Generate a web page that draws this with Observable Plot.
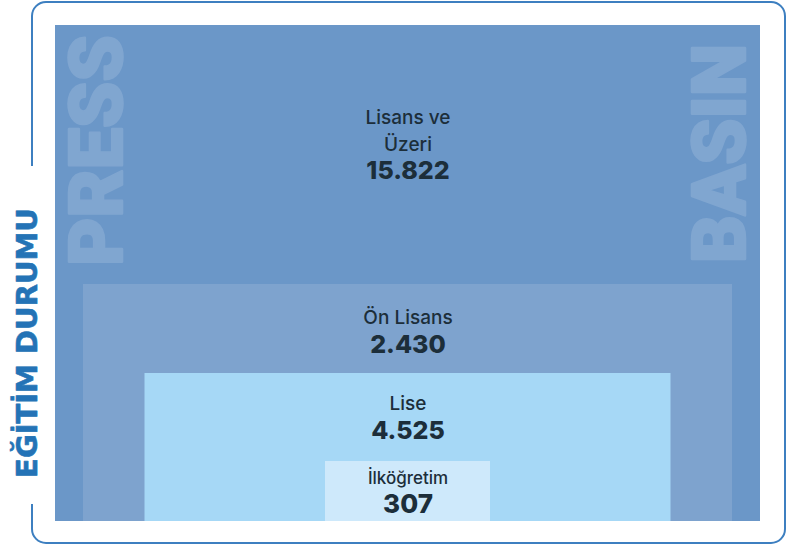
<!DOCTYPE html>
<html>
<head>
<meta charset="utf-8">
<script src="https://cdn.jsdelivr.net/npm/d3@7"></script>
<script src="https://cdn.jsdelivr.net/npm/@observablehq/plot@0.6"></script>
<style>
  html, body { margin: 0; padding: 0; background: #ffffff; }
  #chart svg { display: block; }
</style>
</head>
<body>
<div id="chart"></div>
<script>
// ---- data ----
const categories = ["Lisans ve\nÜzeri", "Ön Lisans", "Lise", "İlköğretim"];
const values = [15822, 2430, 4525, 307];
const title = "EĞİTİM DURUMU";
const watermarks = ["PRESS", "BASIN"];

// ---- layout (nested boxes, bottom-aligned, centred) ----
const boxWidth = [705, 649, 526, 165];
const boxHeight = [496, 237, 148, 60];
const labelDrop = [125, 39, 36, 22];
const valueDrop = [153, 68, 65, 51];
const boxFill = ["#6b97c8", "#7ea3ce", "#a6d8f6", "#cee9fb"];

const trFormat = d3.formatLocale({decimal: ",", thousands: ".", grouping: [3], currency: ["", "₺"]}).format(",d");

const rows = categories.map((c, i) => ({
  category: c,
  value: values[i],
  level: i,
  w: boxWidth[i],
  h: boxHeight[i],
  labelY: boxHeight[i] - labelDrop[i],
  valueY: boxHeight[i] - valueDrop[i],
  fill: boxFill[i]
}));

const marks = [
  // outer rounded frame
  Plot.rect([{}], {x1: -375.5, x2: 377.5, y1: -22, y2: 519, rx: 14, fill: "none", stroke: "#3d7fc0", strokeWidth: 2}),
  // gap in the frame for the title
  Plot.rect([{}], {x1: -384, x2: -367, y1: 17, y2: 355, fill: "white"}),
  Plot.text([title], {x: -380.5, y: 178.5, text: d => d, rotate: -90, fill: "#2473b6",
    fontSize: 29, fontWeight: "bold", fontFamily: "DejaVu Sans", lineAnchor: "middle", textAnchor: "middle",
    stroke: "#2473b6", strokeWidth: 0.6}),
  // boxes
  Plot.rect(rows, {x1: d => -d.w / 2, x2: d => d.w / 2, y1: 0, y2: d => d.h, fill: d => d.fill}),
  // watermarks
  Plot.text(watermarks, {x: (d, i) => i === 0 ? -310 : 313, y: (d, i) => i === 0 ? 371 : 368, text: d => d,
    rotate: -90, fill: "#80a6d0", stroke: "#80a6d0", strokeWidth: 2.5, fontSize: 74, fontWeight: 900, fontFamily: "Roboto",
    lineAnchor: "middle", textAnchor: "middle", ariaLabel: "watermark"}),
  // labels
  Plot.text(rows, {x: 0, y: "labelY", text: "category", lineAnchor: "bottom", lineHeight: 1.42,
    fontSize: d => d.level === 3 ? 17 : 19, fontWeight: 500, fontFamily: "Inter", fill: "#1c2e3a", ariaLabel: "labels"}),
  Plot.text(rows, {x: 0, y: "valueY", text: d => trFormat(d.value), lineAnchor: "bottom",
    fontSize: d => d.level === 3 ? 26 : 25, fontWeight: 800, fontFamily: "Inter", fill: "#1c2e3a", ariaLabel: "values"})
];

const chart = Plot.plot({
  width: 795,
  height: 545,
  marginLeft: 55,
  marginRight: 35,
  marginTop: 25,
  marginBottom: 24,
  x: {domain: [-352.5, 352.5], axis: null},
  y: {domain: [0, 496], axis: null},
  style: {background: "white", overflow: "visible"},
  marks
});
chart.querySelectorAll('g[aria-label="labels"] text').forEach(t => t.setAttribute("letter-spacing", "0.5"));
document.getElementById("chart").appendChild(chart);
</script>
</body>
</html>
